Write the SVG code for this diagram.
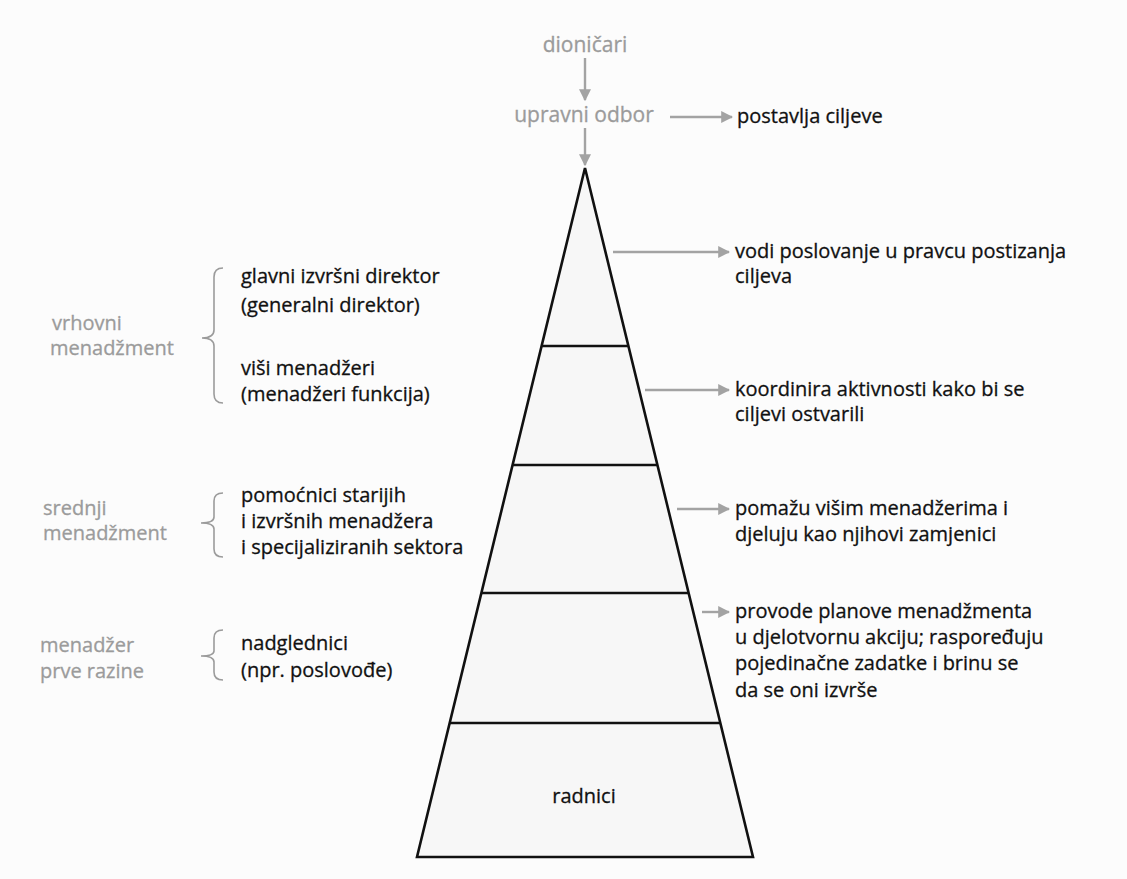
<svg xmlns="http://www.w3.org/2000/svg" width="1127" height="879" viewBox="0 0 1127 879">
<defs>
<marker id="ah" viewBox="0 0 10 10" refX="9" refY="5" markerWidth="5" markerHeight="5" orient="auto" markerUnits="strokeWidth">
<path d="M0,0 L10,5 L0,10 z" fill="#a3a3a3"/>
</marker>
<style>
.t{font-family:"Open Sans","Noto Sans","Liberation Sans",sans-serif;font-size:20px;fill:#111;stroke:#111;stroke-width:0.3}
.g{font-family:"Open Sans","Noto Sans","Liberation Sans",sans-serif;font-size:20px;fill:#9b9b9b;stroke:#9b9b9b;stroke-width:0.3}
.big{font-size:21px}
.c{text-anchor:middle}
.arr{stroke:#a3a3a3;stroke-width:2.4;fill:none;marker-end:url(#ah)}
.br{stroke:#9b9b9b;stroke-width:1.6;fill:none}
.seg{stroke:#111;stroke-width:2.6;fill:#f7f7f7}
.ln{stroke:#111;stroke-width:2.6}
</style>
</defs>
<rect width="1127" height="879" fill="#fcfcfc"/>

<g id="pyramid">
<path class="seg" d="M585,168 L753,857 L417,857 Z"/>
<line class="ln" x1="541.6" y1="346" x2="628.4" y2="346"/>
<line class="ln" x1="512.6" y1="465" x2="657.4" y2="465"/>
<line class="ln" x1="481.4" y1="593" x2="688.6" y2="593"/>
<line class="ln" x1="449.7" y1="723" x2="720.3" y2="723"/>
<text class="t c" x="584" y="803">radnici</text>
</g>

<g id="dionicari"><text class="g big c" x="585" y="52">dioničari</text></g>
<g id="upravni-odbor"><text class="g big c" x="584" y="122">upravni odbor</text></g>
<g id="postavlja"><text class="t" x="737" y="123">postavlja ciljeve</text></g>

<g id="vodi"><text class="t" x="735" y="258">vodi poslovanje u pravcu postizanja</text><text class="t" x="735" y="283">ciljeva</text></g>
<g id="koordinira"><text class="t" x="735" y="396">koordinira aktivnosti kako bi se</text><text class="t" x="735" y="421">ciljevi ostvarili</text></g>
<g id="pomazu"><text class="t" x="735" y="515">pomažu višim menadžerima i</text><text class="t" x="735" y="541">djeluju kao njihovi zamjenici</text></g>
<g id="provode"><text class="t" x="735" y="618">provode planove menadžmenta</text><text class="t" x="735" y="644">u djelotvornu akciju; raspoređuju</text><text class="t" x="735" y="670">pojedinačne zadatke i brinu se</text><text class="t" x="735" y="697">da se oni izvrše</text></g>

<g id="vrhovni">
<text class="g" x="52" y="330">vrhovni</text><text class="g" x="50" y="355">menadžment</text>
<path class="br" d="M223,268 Q214,268 214,277 L214,330 Q214,338 202,338 Q214,338 214,346 L214,394 Q214,403 223,403"/>
<text class="t" x="241" y="283">glavni izvršni direktor</text>
<text class="t" x="241" y="312">(generalni direktor)</text>
<text class="t" x="241" y="375">viši menadžeri</text>
<text class="t" x="241" y="401">(menadžeri funkcija)</text>
</g>

<g id="srednji">
<text class="g" x="43" y="515">srednji</text><text class="g" x="43" y="540">menadžment</text>
<path class="br" d="M223,493 Q214,493 214,501 L214,517 Q214,523 201,523 Q214,523 214,529 L214,549 Q214,557 223,557"/>
<text class="t" x="241" y="502">pomoćnici starijih</text>
<text class="t" x="241" y="528">i izvršnih menadžera</text>
<text class="t" x="241" y="554">i specijaliziranih sektora</text>
</g>

<g id="prva-razina">
<text class="g" x="40" y="652">menadžer</text><text class="g" x="40" y="678">prve razine</text>
<path class="br" d="M223,630 Q214,630 214,638 L214,651 Q214,656 201,656 Q214,656 214,662 L214,672 Q214,680 223,680"/>
<text class="t" x="241" y="650">nadglednici</text>
<text class="t" x="241" y="677">(npr. poslovođe)</text>
</g>

<g id="connectors">
<line class="arr" x1="585" y1="58" x2="585" y2="100"/>
<line class="arr" x1="585" y1="128" x2="585" y2="165"/>
<line class="arr" x1="670" y1="117" x2="732" y2="117"/>
<line class="arr" x1="613" y1="252" x2="729" y2="252"/>
<line class="arr" x1="645" y1="390" x2="729" y2="390"/>
<line class="arr" x1="677" y1="509" x2="729" y2="509"/>
<line class="arr" x1="702" y1="612" x2="729" y2="612"/>
</g>
</svg>
